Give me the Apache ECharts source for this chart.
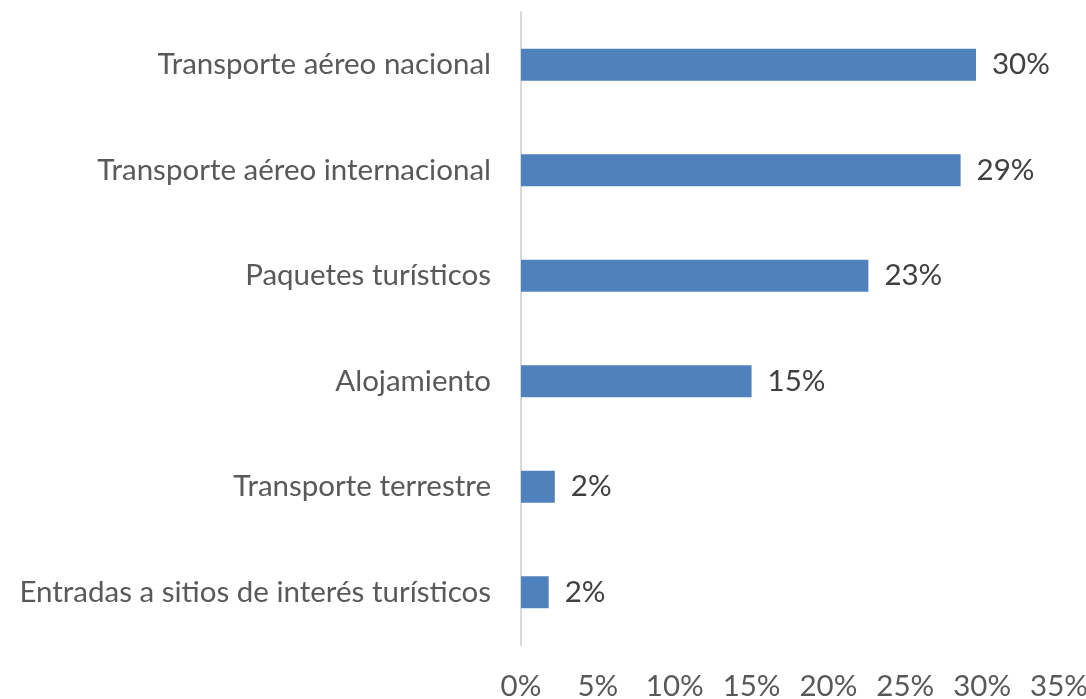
<!DOCTYPE html>
<html>
<head>
<meta charset="utf-8">
<script src="https://cdn.jsdelivr.net/npm/echarts@6/dist/echarts.min.js"></script>
<style>
  html, body { margin: 0; padding: 0; background: #fff; }
  #chart { width: 1086px; height: 699px; }
</style>
</head>
<body>
<div id="chart"></div>
<script>
const CATEGORIES = [
  "Transporte aéreo nacional",
  "Transporte aéreo internacional",
  "Paquetes turísticos",
  "Alojamiento",
  "Transporte terrestre",
  "Entradas a sitios de interés turísticos",
];
const SHARES = [29.6, 28.6, 22.6, 15.0, 2.2, 1.8];
const X_MAX = 35;
const X_STEP = 5;

const FONT = "Lato, 'Open Sans', sans-serif";

const chart = echarts.init(document.getElementById("chart"));
chart.setOption({
  animation: false,
  grid: { top: 12, left: 521, right: 27, bottom: 54, outerBoundsMode: "none" },
  xAxis: {
    type: "value",
    min: 0,
    max: X_MAX,
    interval: X_STEP,
    axisLine: { show: false },
    axisTick: { show: false },
    splitLine: { show: false },
    axisLabel: {
      margin: 26,
      fontSize: 29.5,
      fontFamily: FONT,
      color: "#595959",
      formatter: v => v + "%",
    },
  },
  yAxis: {
    type: "category",
    data: CATEGORIES,
    inverse: true,
    axisLine: { show: true, lineStyle: { color: "#d9d9d9", width: 2 } },
    axisTick: { show: false },
    axisLabel: {
      margin: 30,
      fontSize: 29.5,
      fontFamily: FONT,
      color: "#595959",
    },
  },
  series: [{
    type: "bar",
    data: SHARES,
    barWidth: 32,
    itemStyle: { color: "#4f81bd" },
    label: {
      show: true,
      position: "right",
      distance: 16,
      fontSize: 29.5,
      fontFamily: FONT,
      color: "#404040",
      formatter: ({ value }) => Math.round(value) + "%",
    },
  }],
});
</script>
</body>
</html>
